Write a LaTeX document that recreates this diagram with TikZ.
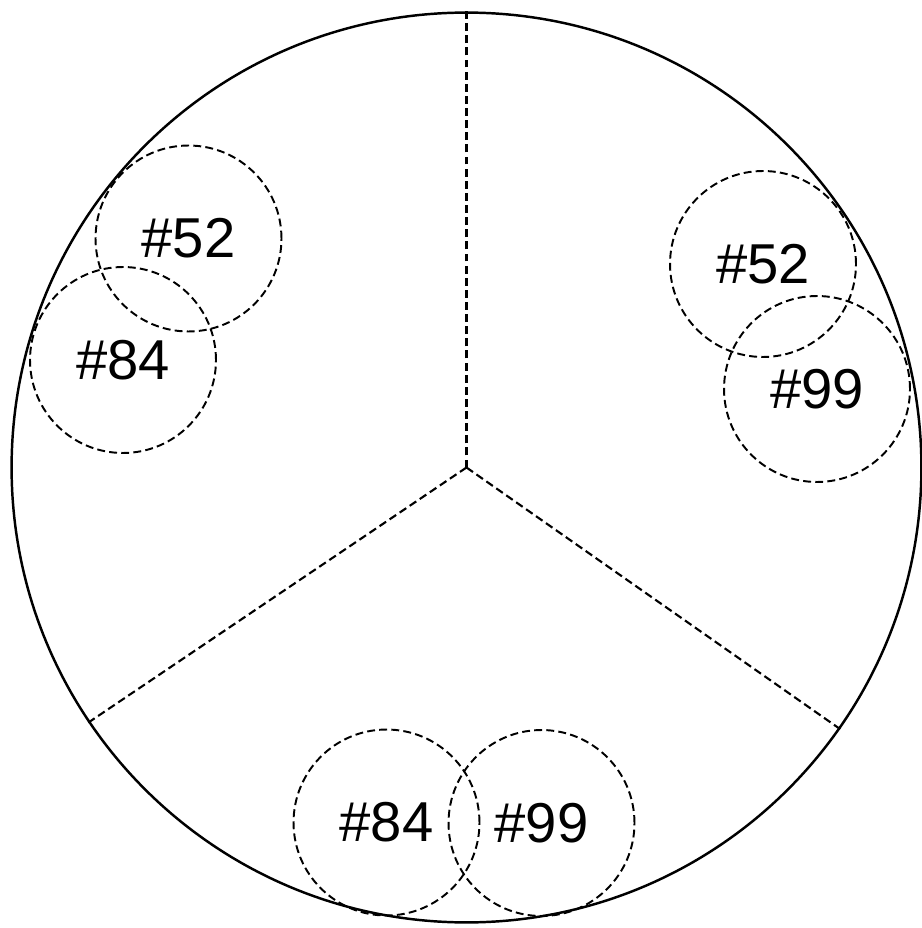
\documentclass[tikz,border=0pt]{standalone}
\usepackage{fontspec}
\setmainfont{Liberation Sans}
\usetikzlibrary{positioning}

\tikzset{
  zone/.style={circle, draw, dash pattern=on 4.5pt off 2.4pt, line width=1.1pt,
    inner sep=0pt, minimum size=3.72cm, font=\fontsize{32}{36}\selectfont},
  divider/.style={dash pattern=on 4.5pt off 2.4pt, line width=1.2pt}
}

\begin{document}
\begin{tikzpicture}[x=0.02cm, y=-0.02cm]
  \useasboundingbox (0,0) rectangle (921,928);
  % Outer circle
  \node[circle, draw, line width=1.4pt, inner sep=0pt, minimum size=18.2cm] (plate) at (466.5,467.5) {};
  % Dividers
  \coordinate (hub) at (plate.center);
  \draw[divider] (hub) -- (plate.north);
  \draw[divider] (hub) -- (plate.214.7);
  \draw[divider] (hub) -- (plate.325.2);
  % Left sector
  \node[zone] (l52) at (188.5,238.5) {\#52};
  \node[zone] (l84) at (123,360) {\#84};
  % Right sector
  \node[zone] (r52) at (763,264) {\#52};
  \node[zone] (r99) at (817,389) {\#99};
  % Bottom sector
  \node[zone] (b84) at (386.5,822.5) {\#84};
  \node[zone] (b99) at (541.5,823) {\#99};
\end{tikzpicture}
\end{document}
